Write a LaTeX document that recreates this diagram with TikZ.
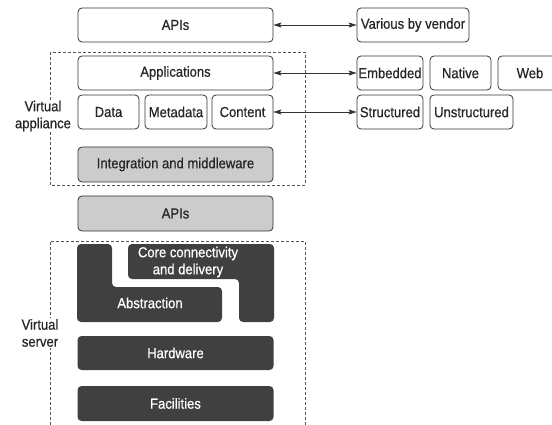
\documentclass[tikz,border=0pt]{standalone}
\usepackage{fontspec}
\setmainfont{Liberation Sans}[FakeStretch=0.9,FakeBold=0.6]
\usetikzlibrary{arrows.meta}
\definecolor{darkfill}{HTML}{404040}
\definecolor{lightfill}{HTML}{CCCCCC}
\definecolor{edge}{HTML}{333333}
\definecolor{dashcol}{HTML}{555555}
\begin{document}
\begin{tikzpicture}[x=1pt,y=-1pt,
  every node/.style={font=\fontsize{14.5}{17}\selectfont, text=black!85},
  box/.style={draw=edge, line width=0.8pt, rounded corners=4pt, inner sep=0pt, minimum height=34pt},
  graybox/.style={box, fill=lightfill},
  darkbox/.style={fill=darkfill, rounded corners=4pt, inner sep=0pt, minimum height=34pt, text=white},
  darkshape/.style={fill=darkfill, rounded corners=4pt},
  wtext/.style={text=white, inner sep=0pt},
  dashbox/.style={draw=dashcol, line width=0.8pt, dash pattern=on 3pt off 2pt},
  biarrow/.style={draw=edge, line width=0.8pt, {Stealth[length=8pt,width=5pt,inset=1.5pt]}-{Stealth[length=8pt,width=5pt,inset=1.5pt]}},
  sidelabel/.style={fill=white, align=center, inner sep=1pt}
]
\useasboundingbox (0,0) rectangle (552,425);

% dashed regions
\draw[dashbox] (50,52) rectangle (305,185);
\draw[dashbox] (50,425) -- (50,241) -- (305,241) -- (305,425);
\node[sidelabel] (vapp) at (43,116) {Virtual\\appliance};
\node[sidelabel] (vsrv) at (40,333) {Virtual\\server};

% upper stack
\node[box, minimum width=195pt] (apis1) at (175.5,25) {APIs};
\node[box, minimum width=112pt] (vendor) at (413,25) {Various by vendor};
\node[box, minimum width=195pt] (apps) at (175.5,73) {Applications};
\node[box, minimum width=61pt] (data) at (108.5,112) {Data};
\node[box, minimum width=62pt] (meta) at (176,112) {Metadata};
\node[box, minimum width=61pt] (content) at (242.5,112) {Content};
\node[graybox, minimum width=195pt, minimum height=35pt] (integ) at (175.5,164.5) {Integration and middleware};

\node[box, minimum width=66pt] (embedded) at (390,73) {Embedded};
\node[box, minimum width=61pt] (native) at (460.5,73) {Native};
\node[box, minimum width=64pt] (web) at (530,73) {Web};
\node[box, minimum width=66pt] (structured) at (390,112) {Structured};
\node[box, minimum width=83pt] (unstructured) at (471.5,112) {Unstructured};

\node[graybox, minimum width=195pt, minimum height=35pt] (apis2) at (175.5,213.5) {APIs};

% lower stack
\fill[darkshape] (77,244) -- (112,244) -- (112,287) -- (222,287) -- (222,322) -- (77,322) -- cycle;
\fill[darkshape] (128,244) -- (274,244) -- (274,322) -- (239,322) -- (239,279) -- (128,279) -- cycle;
\node[wtext] (abstr) at (150,303) {Abstraction};
\node[wtext, align=center] (core) at (188,262) {Core connectivity\\and delivery};
\node[darkbox, minimum width=196pt] (hardware) at (175.5,353) {Hardware};
\node[darkbox, minimum width=196pt, minimum height=35pt] (facilities) at (175.5,403.5) {Facilities};

% arrows
\draw[biarrow] (apis1.east) -- (vendor.west);
\draw[biarrow] (apps.east) -- (embedded.west);
\draw[biarrow] (content.east) -- (structured.west);
\end{tikzpicture}
\end{document}
